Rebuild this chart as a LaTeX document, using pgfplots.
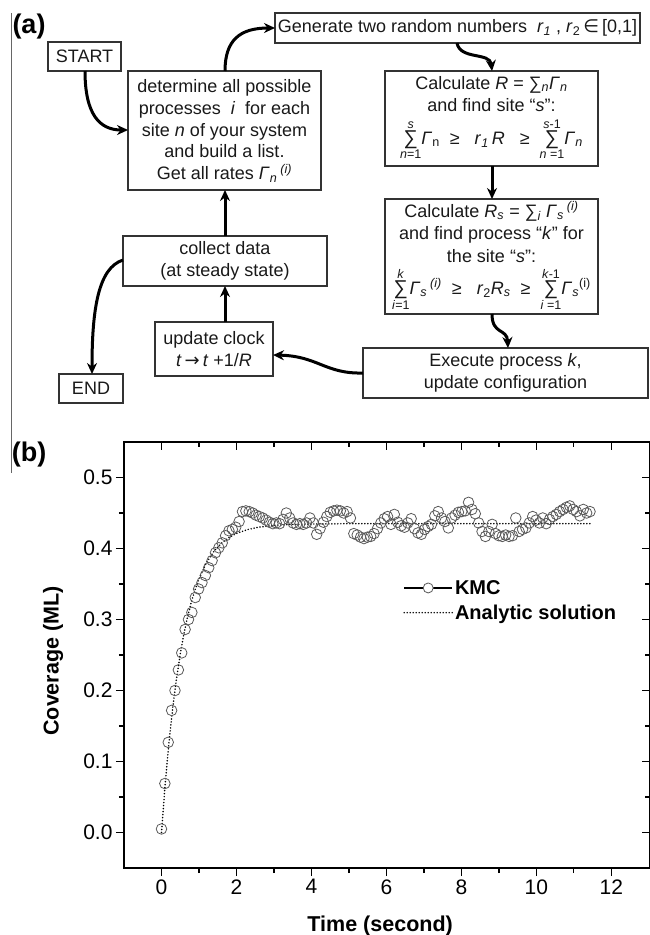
\documentclass[border=0pt]{standalone}
\usepackage{fontspec}
\setmainfont{Liberation Sans}
\newfontfamily\dejavu{DejaVu Sans}
\usepackage{pgfplots}
\pgfplotsset{compat=1.18}
\usetikzlibrary{arrows.meta}
\newcommand\sumlim[2]{\ensuremath{\mathop{\hbox{\fontsize{20}{20}\selectfont ∑}}\limits_{\hbox{\fontsize{12.5}{12.5}\selectfont #1}}^{\hbox{\fontsize{12.5}{12.5}\selectfont #2}}}}
\pgfplotstableread{
t theta
0.00 0.005
0.09 0.069
0.18 0.127
0.27 0.172
0.36 0.200
0.45 0.229
0.54 0.253
0.63 0.286
0.72 0.300
0.81 0.310
0.90 0.331
0.99 0.343
1.08 0.352
1.17 0.362
1.26 0.373
1.35 0.383
1.44 0.394
1.53 0.401
1.62 0.408
1.71 0.418
1.80 0.425
1.89 0.427
1.98 0.430
2.07 0.438
2.16 0.452
2.25 0.453
2.34 0.452
2.43 0.450
2.52 0.447
2.61 0.445
2.70 0.443
2.79 0.440
2.88 0.437
2.97 0.435
3.06 0.436
3.15 0.435
3.24 0.441
3.33 0.450
3.42 0.443
3.51 0.436
3.60 0.434
3.69 0.435
3.78 0.434
3.87 0.436
3.96 0.443
4.05 0.436
4.14 0.420
4.23 0.428
4.32 0.437
4.41 0.445
4.50 0.451
4.59 0.453
4.68 0.454
4.77 0.453
4.86 0.450
4.95 0.452
5.04 0.443
5.13 0.421
5.22 0.419
5.31 0.416
5.40 0.414
5.49 0.416
5.58 0.417
5.67 0.421
5.76 0.428
5.85 0.436
5.94 0.442
6.03 0.445
6.12 0.434
6.21 0.448
6.30 0.437
6.39 0.432
6.48 0.430
6.57 0.436
6.66 0.442
6.75 0.428
6.84 0.422
6.93 0.420
7.02 0.427
7.11 0.431
7.20 0.434
7.29 0.446
7.38 0.452
7.47 0.443
7.56 0.438
7.65 0.429
7.74 0.443
7.83 0.447
7.92 0.451
8.01 0.452
8.10 0.453
8.19 0.465
8.28 0.455
8.37 0.449
8.46 0.436
8.55 0.424
8.64 0.417
8.73 0.424
8.82 0.434
8.91 0.421
9.00 0.418
9.09 0.417
9.18 0.419
9.27 0.417
9.36 0.418
9.45 0.443
9.54 0.424
9.63 0.427
9.72 0.429
9.81 0.436
9.90 0.445
9.99 0.440
10.08 0.436
10.17 0.443
10.26 0.435
10.35 0.441
10.44 0.445
10.53 0.448
10.62 0.452
10.71 0.455
10.80 0.458
10.89 0.460
10.98 0.455
11.07 0.452
11.16 0.446
11.25 0.455
11.34 0.450
11.43 0.452
}\kmcdata
\pgfplotstableread{
t theta
0.0 0.0
0.1 0.0689
0.2 0.1269
0.3 0.1757
0.4 0.2167
0.5 0.2513
0.6 0.2804
0.7 0.3048
0.8 0.3255
0.9 0.3428
1.0 0.3574
1.2 0.3801
1.4 0.3961
1.6 0.4074
1.8 0.4155
2.0 0.4212
2.3 0.4268
2.6 0.4301
3.0 0.4325
3.5 0.4340
4.0 0.4345
5.0 0.4350
11.5 0.4350
}\anadata
\begin{document}
\begin{tikzpicture}
\useasboundingbox (0,0) rectangle (649pt,-935pt);
\begin{scope}[x=1pt,y=-1pt,
  box/.style={draw=black!80, line width=1.1pt},
  txt/.style={align=center, font=\fontsize{18}{22.5}\selectfont, text=black!90, inner sep=0pt},
  arr/.style={line width=3pt, -{Stealth[length=11pt,width=10pt]}}]
\node[font=\bfseries\fontsize{27}{27}\selectfont, inner sep=0pt] at (29,27) {(a)};
\node[font=\bfseries\fontsize{27}{27}\selectfont, inner sep=0pt] at (29,455) {(b)};
\draw[black!60, line width=1pt] (11,13) -- (11,473);
% boxes
\draw[box] (48,42) rectangle (121,71);
\node[txt] at (84.5,56.5) {START};
\draw[box] (128,71) rectangle (321,190);
\node[txt, font=\fontsize{18}{21.7}\selectfont] at (224.5,131) {determine all possible\\processes \ \textit{i} \ for each\\site \textit{n} of your system\\and build a list.\\Get all rates \textit{Γ}\textsubscript{\textit{n}}\,\textsuperscript{\textit{(i)}}};
\draw[box] (275,13) rectangle (640,43);
\node[txt] at (457.5,28) {Generate two random numbers \ \textit{r}\textsubscript{\textit{1}} , \textit{r}\textsubscript{2}\,{\dejavu ∈}\,[0,1]};
\draw[box] (385,71) rectangle (598,166);
\node[txt] at (491.5,118) {Calculate \textit{R} = ∑\textsubscript{\textit{n}}\textit{Γ}\textsubscript{\textit{n}}\\and find site “\textit{s}”:\\[6pt]\sumlim{\textit{n}=1}{\textit{s}}\textit{Γ}\textsubscript{n} \ ≥ \ \ \textit{r}\textsubscript{\textit{1}}\,\textit{R} \ \ ≥ \ \sumlim{\textit{n} =1}{\textit{s}-1}\textit{Γ}\textsubscript{\textit{n}}};
\draw[box] (385,199) rectangle (598,314);
\node[txt] at (491.5,256) {Calculate \textit{R}\textsubscript{\textit{s}} = ∑\textsubscript{\textit{i}} \textit{Γ}\textsubscript{\textit{s}}\,\textsuperscript{\textit{(i)}}\\and find process “\textit{k}” for\\the site “\textit{s}”:\\[5pt]\sumlim{\textit{i}=1}{\textit{k}}\textit{Γ}\textsubscript{\textit{s}}\,\textsuperscript{\textit{(i)}} \ ≥ \ \ \textit{r}\textsubscript{2}\textit{R}\textsubscript{\textit{s}} \ ≥ \ \sumlim{\textit{i} =1}{\textit{k}-1}\textit{Γ}\textsubscript{\textit{s}}\textsuperscript{(i)}};
\draw[box] (123,236) rectangle (327,286);
\node[txt] at (225,261) {collect data\\(at steady state)};
\draw[box] (155,322) rectangle (273,376);
\node[txt] at (214,349) {update clock\\\textit{t}\,{\dejavu →}\,\textit{t} +1/\textit{R}};
\draw[box] (363,348) rectangle (648,398);
\node[txt] at (505.5,373) {Execute process \textit{k},\\update configuration};
\draw[box] (59,374) rectangle (123,403);
\node[txt] at (91,388.5) {END};
% arrows
\draw[arr] (85,71) .. controls (85,115) and (100,130) .. (128,130);
\draw[arr] (225,71) .. controls (225,40) and (240,28) .. (275,28);
\draw[arr] (457,43) .. controls (460,60) and (490,52) .. (492,71);
\draw[arr] (492,166) -- (492,199);
\draw[arr] (492,314) .. controls (492,335) and (507,328) .. (508,348);
\draw[arr] (363,373) .. controls (325,374) and (318,356) .. (273,355);
\draw[arr] (225,322) -- (225,286);
\draw[arr] (225,236) -- (225,190);
\draw[arr] (123,260) .. controls (98,268) and (92,310) .. (92,374);
\end{scope}

\begin{axis}[
  at={(124pt,-868pt)}, anchor=south west, scale only axis,
  width=526pt, height=426pt,
  xmin=-1, xmax=13.03, ymin=-0.05, ymax=0.55,
  xtick={0,2,4,6,8,10,12}, minor xtick={1,3,5,7,9,11},
  ytick={0,0.1,0.2,0.3,0.4,0.5}, minor ytick={0.05,0.15,0.25,0.35,0.45},
  tick pos=left, tick align=outside,
  major tick length=8pt, minor tick length=5pt,
  every tick/.style={black, line width=1.2pt},
  axis line style={line width=1.2pt},
  ticklabel style={font=\fontsize{21}{21}\selectfont},
  /pgf/number format/assume math mode=true,
  y tick label style={/pgf/number format/fixed, /pgf/number format/fixed zerofill, /pgf/number format/precision=1},
  xlabel={Time (second)}, ylabel={Coverage (ML)},
  label style={font=\bfseries\fontsize{21.5}{21.5}\selectfont},
  xlabel style={at={(axis description cs:0.487,-0.136)}, anchor=center},
  ylabel style={at={(axis description cs:-0.135,0.486)}, anchor=center},
  legend style={at={(axis description cs:0.525,0.6854)}, anchor=north west, draw=none, fill=none,
    font=\bfseries\fontsize{20}{20}\selectfont, row sep=5pt},
  legend cell align=left,
]
\addplot[only marks, mark=o, mark size=5.3pt, mark options={draw=black!65, line width=0.8pt},
  legend image code/.code={\draw[black, line width=1.3pt] (0pt,0pt) -- (48pt,0pt); \draw[black!65, line width=0.8pt, fill=white] (24pt,0pt) circle (5pt);}]
  table[x=t, y=theta] {\kmcdata};
\addlegendentry{KMC}
\addplot[black, line width=1.7pt, line cap=round, dash pattern=on 0pt off 3pt,
  legend image code/.code={\draw[black, line width=1.7pt, line cap=round, dash pattern=on 0pt off 3pt] (0pt,0pt) -- (48pt,0pt);}]
  table[x=t, y=theta] {\anadata};
\addlegendentry{Analytic solution}
\end{axis}
\begin{axis}[
  at={(124pt,-868pt)}, anchor=south west, scale only axis,
  width=526pt, height=426pt,
  xmin=-1, xmax=13.03, ymin=-0.05, ymax=0.55,
  xtick={0,2,4,6,8,10,12}, minor xtick={1,3,5,7,9,11},
  ytick={0,0.1,0.2,0.3,0.4,0.5}, minor ytick={0.05,0.15,0.25,0.35,0.45},
  tick pos=right, tick align=inside,
  xticklabels={}, yticklabels={},
  major tick length=8pt, minor tick length=5pt,
  every tick/.style={black, line width=1.2pt},
  axis line style={line width=1.2pt},
]
\end{axis}
\end{tikzpicture}
\end{document}
